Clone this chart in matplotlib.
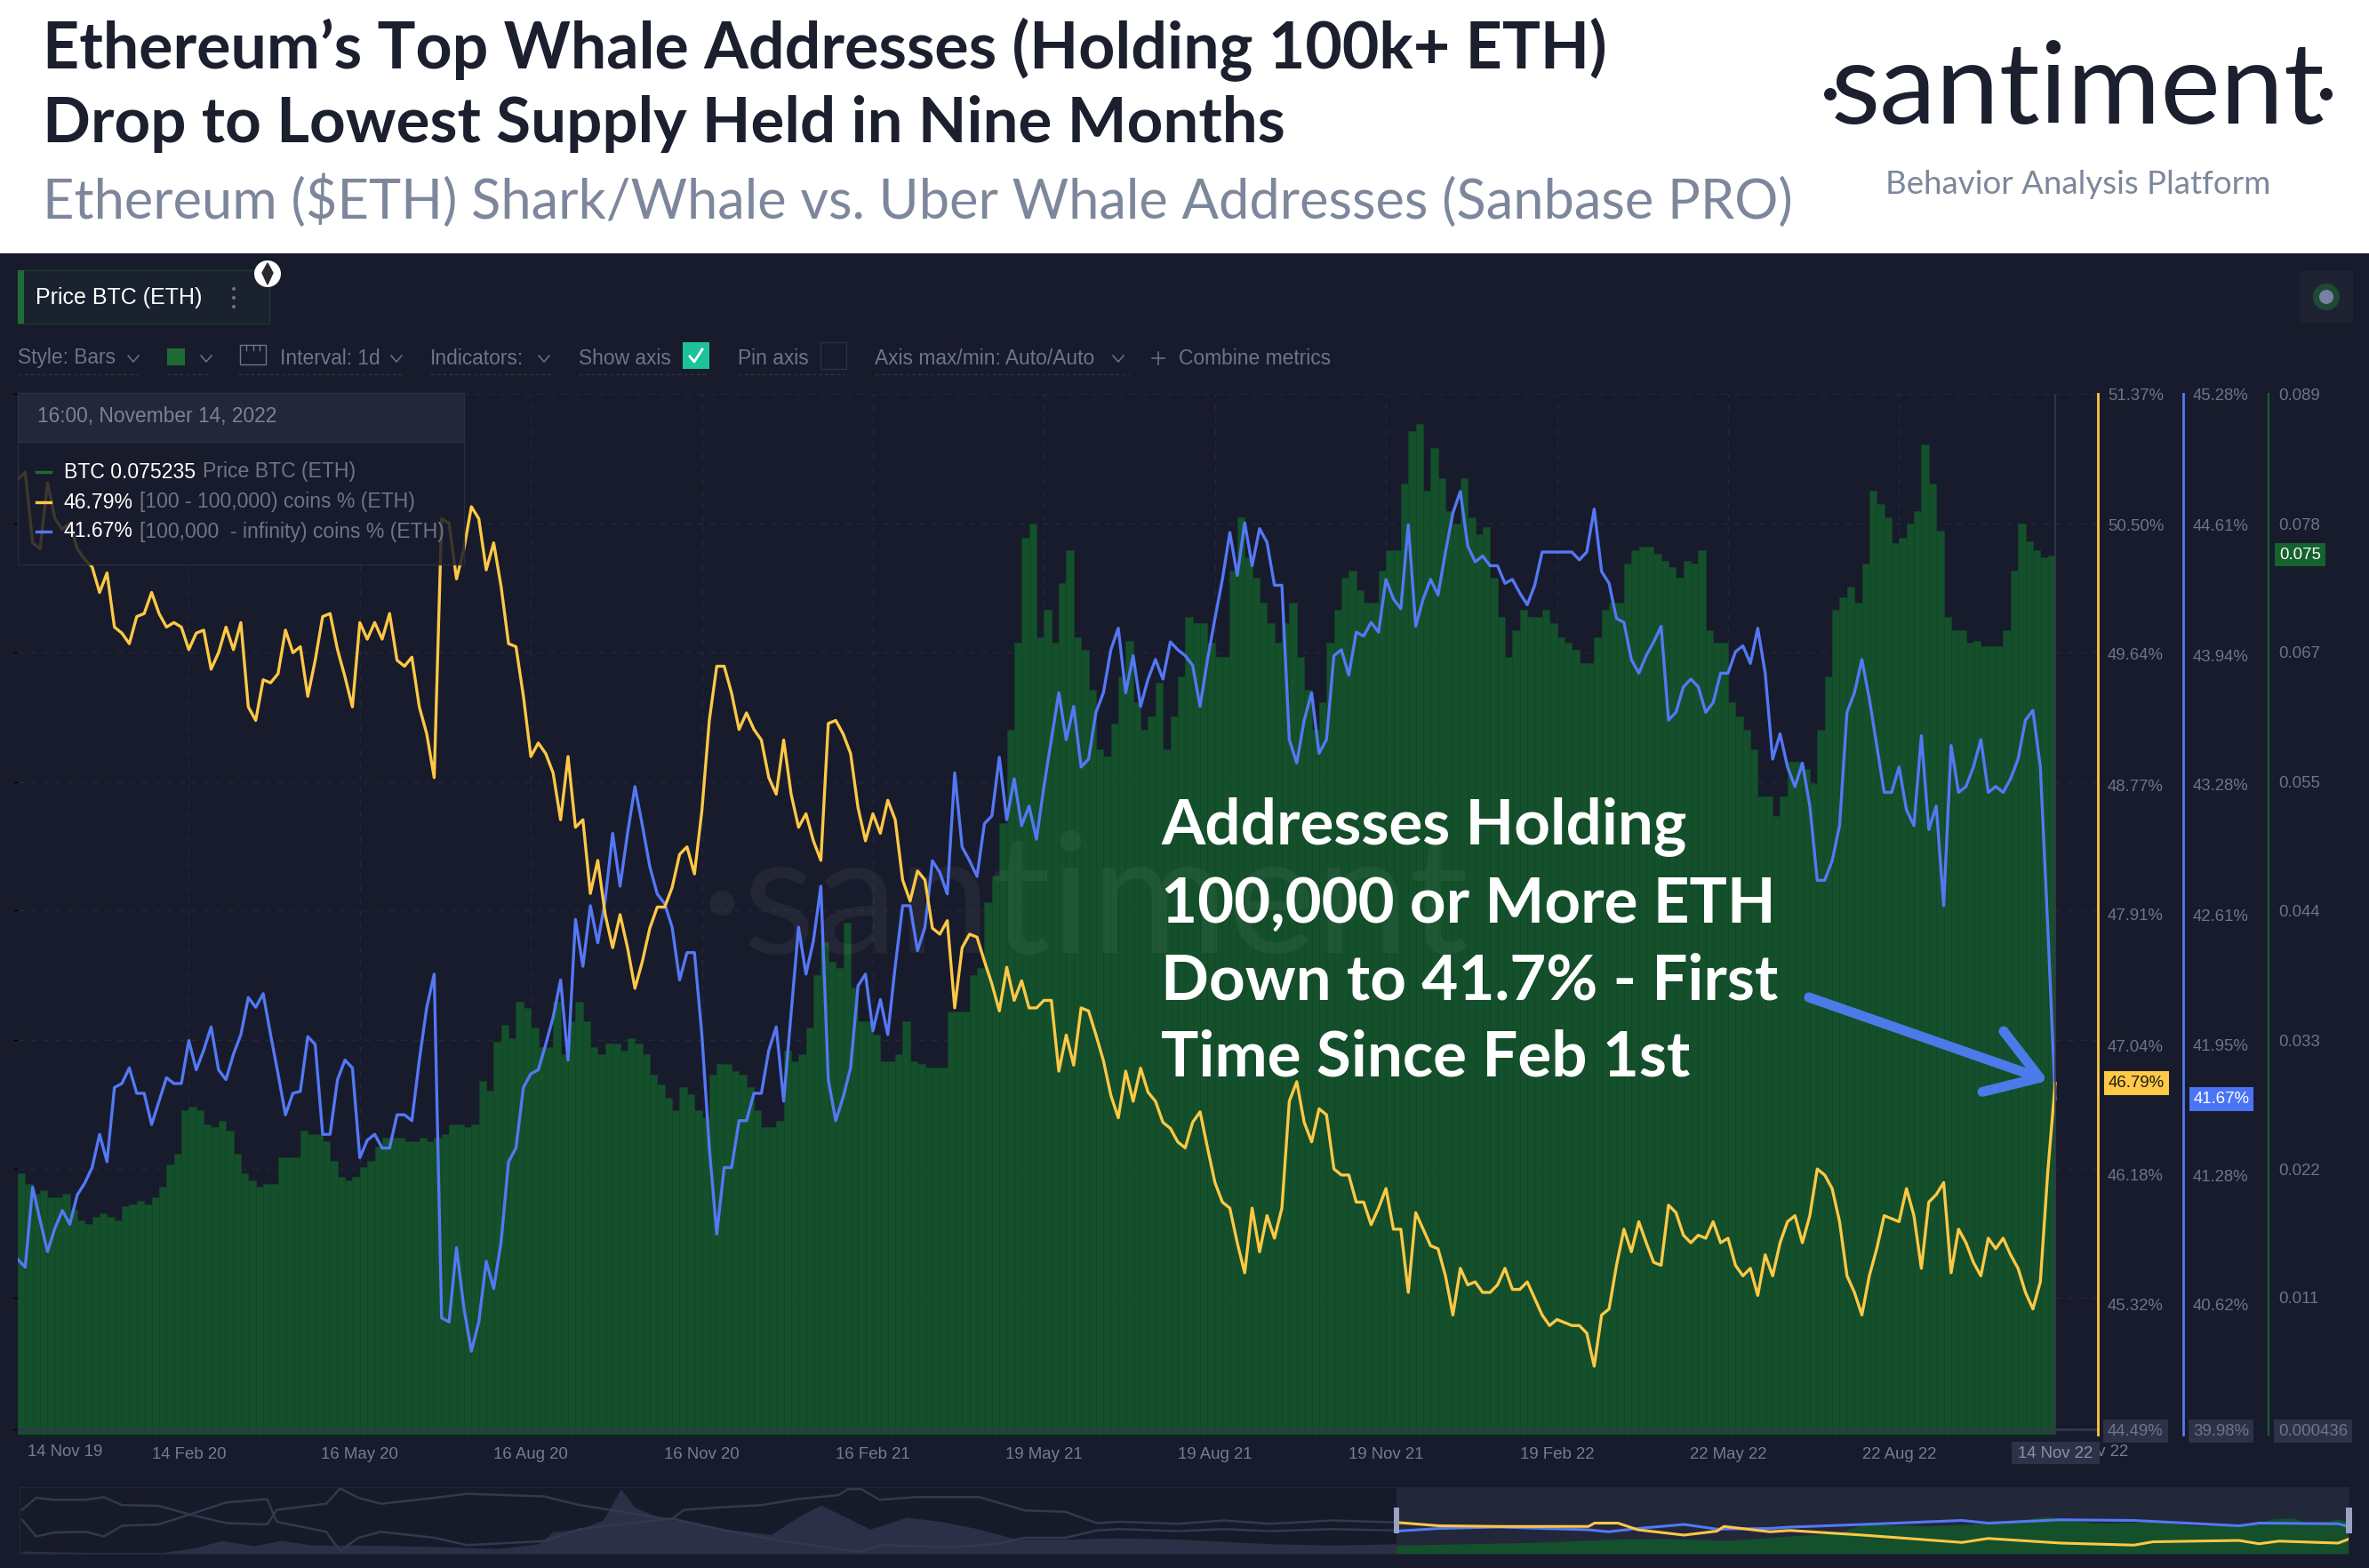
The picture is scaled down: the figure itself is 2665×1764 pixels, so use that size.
#!/usr/bin/env python3
"""Santiment ETH supply distribution chart, redrawn with matplotlib."""

import matplotlib
matplotlib.use('Agg')
import matplotlib.pyplot as plt
import numpy as np
import pandas as pd
from matplotlib.lines import Line2D
from matplotlib.patches import Ellipse, Polygon, Rectangle

W, H = 2665, 1764
BG = '#181b2b'
YELLOW = '#ffc845'
BLUE = '#5478f5'
GREEN = '#14502b'
GREEN_AXIS = '#1c5c33'
TICK_GRAY = '#6f7488'
GRID = '#23273a'

# one reading every 4 days, the last one is 14 Nov 22
yellow_pct = [
    50.80, 50.85, 50.38, 50.34, 50.78, 50.54, 50.47, 50.51, 50.34, 50.27,
    50.22, 50.05, 50.18, 49.82, 49.78, 49.71, 49.89, 49.91, 50.05, 49.91,
    49.82, 49.85, 49.82, 49.67, 49.78, 49.80, 49.54, 49.65, 49.82, 49.67,
    49.85, 49.29, 49.20, 49.47, 49.45, 49.51, 49.80, 49.65, 49.69, 49.36,
    49.60, 49.89, 49.91, 49.67, 49.49, 49.29, 49.85, 49.74, 49.85, 49.74,
    49.91, 49.60, 49.56, 49.62, 49.29, 49.11, 48.82, 50.54, 50.51, 50.14,
    50.34, 50.62, 50.54, 50.20, 50.38, 50.09, 49.71, 49.69, 49.36, 48.96,
    49.05, 48.98,
    48.85, 48.54, 48.96, 48.49, 48.54, 48.05, 48.27, 47.91, 47.69, 47.91,
    47.69, 47.42, 47.60, 47.82, 47.96, 47.96, 48.09, 48.31, 48.36, 48.18,
    48.60, 49.20, 49.56, 49.56, 49.38, 49.14, 49.25, 49.14, 49.07, 48.82,
    48.71, 49.07, 48.71, 48.49, 48.58, 48.40, 48.27, 49.18, 49.20, 49.11,
    48.98, 48.62, 48.40, 48.58, 48.45, 48.67, 48.54, 48.14, 48.00, 48.20,
    48.14, 47.82, 47.78, 47.87, 47.29, 47.69, 47.78, 47.76, 47.60, 47.45,
    47.27, 47.56, 47.34, 47.47, 47.29, 47.29, 47.34, 47.34, 46.87, 47.11,
    46.91, 47.29,
    47.27, 47.11, 46.94, 46.71, 46.56, 46.87, 46.67, 46.89, 46.73, 46.67,
    46.53, 46.49, 46.40, 46.36, 46.53, 46.60, 46.36, 46.13, 46.00, 45.96,
    45.73, 45.53, 45.96, 45.67, 45.91, 45.76, 45.96, 46.67, 46.80, 46.53,
    46.40, 46.62, 46.58, 46.22, 46.18, 46.18, 46.00, 46.00, 45.85, 45.96,
    46.09, 45.82, 45.82, 45.40, 45.93, 45.82, 45.71, 45.69, 45.51, 45.25,
    45.56, 45.45, 45.47, 45.40, 45.40, 45.45, 45.56, 45.42, 45.42, 45.47,
    45.36, 45.25, 45.18, 45.22, 45.20, 45.18, 45.18, 45.13, 44.91, 45.25,
    45.29, 45.58,
    45.82, 45.67, 45.87, 45.73, 45.60, 45.58, 45.98, 45.93, 45.78, 45.73,
    45.78, 45.76, 45.87, 45.73, 45.76, 45.58, 45.51, 45.56, 45.38, 45.65,
    45.51, 45.73, 45.87, 45.91, 45.73, 45.91, 46.22, 46.18, 46.09, 45.87,
    45.51, 45.40, 45.25, 45.51, 45.69, 45.91, 45.89, 45.87, 46.09, 45.91,
    45.56, 46.00, 46.05, 46.13, 45.53, 45.82, 45.73, 45.60, 45.51, 45.76,
    45.69, 45.76, 45.65, 45.56, 45.40, 45.29, 45.47, 46.20, 46.79,
]

blue_pct = [
    40.85, 40.81, 41.22, 41.05, 40.89, 41.01, 41.10, 41.03, 41.18, 41.24,
    41.32, 41.49, 41.35, 41.73, 41.75, 41.83, 41.70, 41.70, 41.54, 41.66,
    41.78, 41.75, 41.75, 41.97, 41.82, 41.92, 42.04, 41.82, 41.77, 41.90,
    42.00, 42.19, 42.14, 42.21, 42.00, 41.80, 41.59, 41.70, 41.71, 41.99,
    41.95, 41.49, 41.49, 41.77, 41.87, 41.83, 41.37, 41.46, 41.49, 41.42,
    41.42, 41.59, 41.59, 41.56, 41.87, 42.14, 42.31, 40.55, 40.53, 40.91,
    40.60, 40.38, 40.53, 40.84, 40.70, 40.94, 41.35, 41.42, 41.73, 41.80,
    41.82, 41.95,
    42.09, 42.28, 41.87, 42.59, 42.35, 42.66, 42.47, 42.69, 43.03, 42.76,
    43.03, 43.27, 43.07, 42.86, 42.72, 42.67, 42.55, 42.28, 42.42, 42.42,
    42.00, 41.42, 40.98, 41.32, 41.32, 41.56, 41.56, 41.70, 41.70, 41.92,
    42.04, 41.66, 42.11, 42.55, 42.31, 42.48, 42.76, 41.77, 41.56, 41.68,
    41.83, 42.25, 42.31, 42.02, 42.18, 42.00, 42.35, 42.66, 42.66, 42.43,
    42.55, 42.89, 42.83, 42.72, 43.34, 42.96, 42.89, 42.81, 43.08, 43.12,
    43.42, 43.10, 43.31, 43.07, 43.17, 43.00, 43.27, 43.51, 43.75, 43.51,
    43.68, 43.37,
    43.41, 43.65, 43.75, 43.97, 44.08, 43.75, 43.94, 43.68, 43.82, 43.92,
    43.82, 44.01, 43.97, 43.94, 43.89, 43.68, 43.92, 44.13, 44.33, 44.57,
    44.35, 44.62, 44.40, 44.59, 44.52, 44.30, 44.30, 43.51, 43.39, 43.61,
    43.75, 43.44, 43.51, 43.94, 43.97, 43.84, 44.06, 44.04, 44.11, 44.06,
    44.33, 44.23, 44.18, 44.61, 44.09, 44.23, 44.33, 44.25, 44.47, 44.67,
    44.78, 44.50, 44.42, 44.45, 44.40, 44.40, 44.31, 44.33, 44.26, 44.20,
    44.30, 44.47, 44.47, 44.47, 44.47, 44.47, 44.43, 44.47, 44.69, 44.37,
    44.31, 44.13,
    44.11, 43.92, 43.85, 43.94, 44.01, 44.09, 43.61, 43.65, 43.78, 43.82,
    43.78, 43.65, 43.70, 43.85, 43.85, 43.96, 43.99, 43.90, 44.08, 43.85,
    43.41, 43.54, 43.37, 43.27, 43.39, 43.17, 42.79, 42.79, 42.89, 43.07,
    43.65, 43.75, 43.92, 43.72, 43.48, 43.24, 43.24, 43.37, 43.15, 43.07,
    43.53, 43.05, 43.17, 42.66, 43.48, 43.24, 43.27, 43.37, 43.51, 43.24,
    43.27, 43.24, 43.31, 43.41, 43.61, 43.66, 43.37, 42.55, 41.67,
]

price_btc = [
    .0220, .0223, .0214, .0206, .0209, .0203, .0203, .0206, .0192, .0183,
    .0180, .0186, .0189, .0186, .0183, .0195, .0197, .0200, .0197, .0203,
    .0212, .0231, .0240, .0277, .0280, .0277, .0265, .0263, .0268, .0260,
    .0240, .0223, .0217, .0212, .0214, .0214, .0237, .0237, .0237, .0260,
    .0257, .0257, .0251, .0234, .0220, .0217, .0220, .0229, .0234, .0246,
    .0254, .0254, .0254, .0251, .0251, .0254, .0251, .0254, .0257, .0265,
    .0265, .0263, .0265, .0302, .0294, .0336, .0350, .0339, .0370, .0365,
    .0348, .0331,
    .0331, .0370, .0325, .0353, .0370, .0353, .0331, .0325, .0334, .0334,
    .0328, .0339, .0334, .0325, .0308, .0299, .0288, .0277, .0297, .0291,
    .0277, .0271, .0308, .0317, .0317, .0311, .0308, .0297, .0277, .0263,
    .0263, .0268, .0328, .0319, .0325, .0348, .0393, .0421, .0404, .0399,
    .0438, .0382, .0353, .0353, .0342, .0319, .0319, .0325, .0353, .0319,
    .0317, .0314, .0314, .0314, .0362, .0362, .0362, .0393, .0399, .0455,
    .0478, .0523, .0603, .0677, .0767, .0779, .0682, .0705, .0677, .0728,
    .0756, .0682,
    .0671, .0637, .0586, .0580, .0608, .0648, .0679, .0626, .0603, .0614,
    .0643, .0586, .0614, .0648, .0699, .0694, .0694, .0677, .0665, .0665,
    .0739, .0784, .0750, .0733, .0711, .0694, .0677, .0694, .0711, .0665,
    .0637, .0603, .0626, .0677, .0705, .0733, .0739, .0722, .0711, .0711,
    .0739, .0756, .0756, .0813, .0858, .0864, .0807, .0844, .0818, .0790,
    .0779, .0818, .0784, .0770, .0776, .0733, .0699, .0665, .0688, .0705,
    .0699, .0699, .0705, .0694, .0682, .0677, .0671, .0660, .0660, .0682,
    .0705, .0711,
    .0711, .0745, .0756, .0759, .0759, .0753, .0747, .0742, .0733, .0747,
    .0745, .0756, .0688, .0677, .0677, .0626, .0614, .0603, .0586, .0546,
    .0546, .0529, .0546, .0575, .0575, .0569, .0557, .0603, .0648, .0705,
    .0716, .0725, .0711, .0745, .0807, .0796, .0784, .0762, .0767, .0779,
    .0790, .0847, .0813, .0773, .0699, .0688, .0688, .0677, .0679, .0674,
    .0674, .0674, .0688, .0739, .0779, .0764, .0756, .0750, .0752,
]
assert len(yellow_pct) == len(blue_pct) == len(price_btc) == 275

yellow_ticks = [51.37, 50.50, 49.64, 48.77, 47.91, 47.04, 46.18, 45.32, 44.49]
blue_ticks = [45.28, 44.61, 43.94, 43.28, 42.61, 41.95, 41.28, 40.62, 39.98]
green_ticks = [0.089, 0.0779, 0.0669, 0.0558, 0.0448, 0.0337, 0.0227, 0.0117, 0.000436]
green_tick_labels = ['0.089', '0.078', '0.067', '0.055', '0.044', '0.033', '0.022', '0.011', '0.000436']

start_date = pd.Timestamp('2019-11-14')
date_ticks = ['2020-02-14', '2020-05-16', '2020-08-16', '2020-11-16', '2021-02-16', '2021-05-19',
              '2021-08-19', '2021-11-19', '2022-02-19', '2022-05-22', '2022-08-22']

# navigator strip at the bottom, heights are percent of the strip, days relative to 14 Nov 19
mini_a_days = [-1582, -1566, -1545, -1509, -1488, -1467, -1425, -1389, -1347, -1300,
               -1289, -1232, -1216, -1195, -1169, -1107, -1070, -981, -940, -887,
               -835, -820, -773, -731, -689, -642, -632, -616, -595, -553,
               -480, -428, -381, -345, -318, -251, -198, -146, -73, 0]
mini_a = [66, 84, 81, 81, 85, 73, 72, 59, 46, 44,
          66, 75, 98, 84, 75, 84, 90, 86, 73, 62,
          51, 66, 70, 73, 82, 88, 97, 97, 81, 85,
          85, 65, 63, 46, 48, 45, 50, 45, 50, 47]
mini_b_days = [-1582, -1566, -1545, -1509, -1488, -1467, -1425, -1389, -1347, -1300,
               -1289, -1232, -1216, -1195, -1169, -1107, -1070, -981, -940, -887,
               -835, -773, -710, -642, -616, -595, -512, -459, -428, -381,
               -345, -318, -251, -198, -146, -73, 0]
mini_b = [51, 26, 32, 33, 26, 42, 44, 59, 77, 82,
          48, 33, 4, 24, 33, 24, 13, 19, 37, 45,
          53, 35, 20, 7, 3, 13, 10, 15, 24, 24,
          35, 37, 34, 37, 34, 37, 35]
mini_price_days = [-1582, -1503, -1420, -1383, -1352, -1315, -1284, -1248, -1190, -1107,
                   -1034, -987, -971, -940, -913, -893, -877, -846, -814, -773,
                   -720, -689, -663, -637, -606, -564, -522, -480, -438, -376,
                   -324, -251, -146, -73, 0]
mini_price = [4, 2, 2, 9, 20, 12, 20, 13, 13, 11,
              8, 15, 33, 37, 51, 97, 70, 53, 48, 37,
              29, 55, 73, 57, 37, 55, 48, 37, 22, 22,
              24, 22, 15, 13, 15]
sel_yellow_days = [0, 49, 118, 221, 228, 255, 278, 331, 369, 377, 430, 453,
                   537, 651, 681, 765, 849, 871, 970, 993, 1016, 1084, 1096]
sel_yellow = [47, 42, 41, 41, 46, 46, 36, 28, 34, 41, 33, 35,
              28, 17, 23, 16, 13, 18, 20, 15, 19, 16, 22]
sel_blue_days = [0, 49, 118, 221, 244, 278, 331, 369, 430, 453,
                 537, 651, 681, 765, 849, 970, 993, 1084, 1096]
sel_blue = [34, 38, 40, 36, 33, 38, 44, 37, 38, 40,
            44, 50, 46, 51, 50, 42, 46, 45, 41]
sel_price_days = [0, 80, 156, 255, 308, 384, 445, 506, 537, 613, 689,
                  750, 803, 879, 917, 978, 1008, 1031, 1054, 1084, 1096]
sel_price = [13, 15, 17, 22, 23, 20, 26, 31, 44, 42, 46,
             56, 46, 48, 42, 42, 52, 54, 44, 52, 48]

plt.rcParams['font.family'] = ['Liberation Sans', 'DejaVu Sans']
fig = plt.figure(figsize=(W / 100, H / 100), dpi=100, facecolor=BG)


def fx(x):
    return x / W


def fy(y):
    return 1 - y / H


def txt(x, y, s, size, color, ha='left', va='center', z=8, **kw):
    return fig.text(fx(x), fy(y), s, fontsize=size, color=color, ha=ha, va=va, zorder=z, **kw)


def box(x0, y0, x1, y1, color, alpha=1.0, z=5, ec='none', lw=0):
    r = Rectangle((fx(x0), fy(y1)), (x1 - x0) / W, (y1 - y0) / H, transform=fig.transFigure,
                  facecolor=color, alpha=alpha, zorder=z, edgecolor=ec, linewidth=lw)
    fig.add_artist(r)
    return r


def seg(xs, ys, color, lw=1.5, z=8, **kw):
    fig.add_artist(Line2D([fx(x) for x in xs], [fy(y) for y in ys], transform=fig.transFigure,
                          color=color, linewidth=lw, zorder=z, **kw))


def dot(x, y, r, color, z=8):
    fig.add_artist(Ellipse((fx(x), fy(y)), 2 * r / W, 2 * r / H, transform=fig.transFigure,
                           facecolor=color, edgecolor='none', zorder=z))


def chevron(x, y):
    seg([x - 6, x, x + 6], [y - 3, y + 4, y - 3], '#6f7488', lw=1.1)


# main panel, three y scales on the same area
days = np.arange(275) * 4
ax_left, ax_right, ax_top, ax_bottom = 20, 2360, 443, 1614
rect = [fx(ax_left), fy(ax_bottom), (ax_right - ax_left) / W, (ax_bottom - ax_top) / H]
px_per_day = (2312 - 20) / 1096

ax = fig.add_axes(rect, facecolor=BG)
ax.set_xlim(0, (ax_right - ax_left) / px_per_day)
ax.set_ylim(-0.00002, 0.089)
ax.bar(days - 4, price_btc, width=4, align='edge', color=GREEN, edgecolor='#124827', linewidth=0.4, zorder=2)
ax.set_axisbelow(True)
ax.grid(True, color=GRID, linestyle=(0, (5, 5)), linewidth=1.0)
for s in ax.spines.values():
    s.set_visible(False)
ax.set_yticks(green_ticks)
ax.tick_params(axis='y', left=False, labelleft=False)
tick_days = (pd.to_datetime(date_ticks) - start_date).days
ax.set_xticks(tick_days)
ax.set_xticklabels([d.strftime('%d %b %y') for d in pd.to_datetime(date_ticks)])
ax.tick_params(axis='x', length=0, labelsize=13.4, labelcolor='#777c92', pad=10)
ax.text(fx(788), fy(1072), '\u00b7santiment', transform=fig.transFigure, fontsize=135,
        family='Lato', color='white', alpha=0.05, zorder=3, clip_on=False)

ax_blue = ax.twinx()
ax_blue.set_ylim(39.953, 45.28)
ax_blue.plot(days, blue_pct, color=BLUE, linewidth=2.4, solid_joinstyle='round')
ax_yel = ax.twinx()
ax_yel.set_ylim(44.455, 51.37)
ax_yel.plot(days, yellow_pct, color=YELLOW, linewidth=2.4, solid_joinstyle='round')

ax_green = ax.twinx()
ax_green.set_ylim(ax.get_ylim())

for a, ticks, labels, color, off, lw in [
        (ax_yel, yellow_ticks, [f'{t:.2f}%' for t in yellow_ticks], YELLOW, 0, 2.0),
        (ax_blue, blue_ticks, [f'{t:.2f}%' for t in blue_ticks], BLUE, 96, 2.0),
        (ax_green, green_ticks, green_tick_labels, GREEN_AXIS, 192, 1.6)]:
    a.patch.set_visible(False)
    for name, s in a.spines.items():
        s.set_visible(name == 'right')
    a.spines['right'].set_position(('outward', off * 0.72))
    a.spines['right'].set_color(color)
    a.spines['right'].set_linewidth(lw)
    a.set_yticks(ticks)
    a.set_yticklabels(labels)
    a.tick_params(axis='y', length=0, labelsize=13.4, labelcolor=TICK_GRAY, pad=8)
    bottom_label = a.get_yticklabels()[-1]
    bottom_label.set_bbox(dict(facecolor='#2d3248', edgecolor='none', pad=3.5))
    a.tick_params(axis='x', bottom=False, labelbottom=False)

ax_yel.annotate(f'{yellow_pct[-1]:.2f}%', xy=(1, yellow_pct[-1]), xycoords=('axes fraction', 'data'),
                xytext=(8.5, 0), textcoords='offset points', va='center', fontsize=13.4, color='#1a1a1a',
                bbox=dict(facecolor=YELLOW, edgecolor='none', pad=3.5), annotation_clip=False)
ax_yel.annotate(f'{blue_pct[-1]:.2f}%', xy=(1, ax_yel.transData.inverted().transform(
                    ax_blue.transData.transform((0, blue_pct[-1])))[1]), xycoords=('axes fraction', 'data'),
                xytext=(77.5, 0), textcoords='offset points', va='center', fontsize=13.4, color='white',
                bbox=dict(facecolor='#4a73f5', edgecolor='none', pad=3.5), annotation_clip=False)
ax_green.annotate(f'{price_btc[-1]:.3f}', xy=(1, 0.075235), xycoords=('axes fraction', 'data'),
                  xytext=(147, 0), textcoords='offset points', va='center', fontsize=13.4, color='white',
                  bbox=dict(facecolor='#14622e', edgecolor='none', pad=3.5), annotation_clip=False)

# crosshair on the last day
ax_yel.axvline(1096, color='#34384c', linewidth=1.2)
ax_yel.axhline(44.49, color='#34384c', linewidth=2)
txt(2394, 1634, '22 Nov 22', 13.4, '#777c92', ha='right', z=6)
box(2263, 1622, 2362, 1647, '#2d3248', z=7)
txt(2312, 1635, '14 Nov 22', 13.4, '#8b90a8', ha='center')
txt(31, 1634, '14 Nov 19', 13.4, '#777c92')

# callout
ax_yel.annotate('', xy=(1096, yellow_pct[-1]), xycoords='data', xytext=(fx(2035), fy(1122)),
                textcoords='figure fraction',
                arrowprops=dict(arrowstyle='->,head_length=2.0,head_width=1.3', lw=8, color='#4a7be8',
                                capstyle='round', shrinkA=0, shrinkB=6, mutation_scale=20))
for y, line in zip([930, 1017, 1104, 1190], ['Addresses Holding', '100,000 or More ETH',
                                             'Down to 41.7% - First', 'Time Since Feb 1st']):
    txt(1306, y, line, 51, 'white', family='Lato', fontweight='bold')

# navigator strip
mini = fig.add_axes([fx(22), fy(1748), (2642 - 22) / W, (1748 - 1673) / H], facecolor='#171a29')
mini.set_xlim(-1585, 1096)
mini.set_ylim(0, 100)
mini.axvspan(0, 1096, color='#23273a', linewidth=0)
mini.fill_between(mini_price_days, mini_price, color='#2b3046', linewidth=0)
mini.plot(mini_a_days, mini_a, color='#33384e', linewidth=1.8)
mini.plot(mini_b_days, mini_b, color='#33384e', linewidth=1.8)
mini.fill_between(sel_price_days, sel_price, color=GREEN, linewidth=0)
mini.plot(sel_blue_days, sel_blue, color=BLUE, linewidth=2.2)
mini.plot(sel_yellow_days, sel_yellow, color=YELLOW, linewidth=2.2)
mini.set_xticks([])
mini.set_yticks([])
for s in mini.spines.values():
    s.set_color('#23273a')
box(1568, 1696, 1574, 1725, '#9aa2c4')
box(2639, 1696, 2646, 1725, '#9aa2c4')

# white header
box(0, 0, W, 285, 'white', z=1)
txt(48, 56, 'Ethereum\u2019s Top Whale Addresses (Holding 100k+ ETH)', 51.6, '#1b1f2e', family='Lato', fontweight='bold')
txt(48, 139, 'Drop to Lowest Supply Held in Nine Months', 51, '#1b1f2e', family='Lato', fontweight='bold')
txt(48, 227, 'Ethereum ($ETH) Shark/Whale vs. Uber Whale Addresses (Sanbase PRO)', 44.2, '#7d879c', family='Lato')
txt(2338, 139, 'santiment', 92, '#1b1f2e', ha='center', va='baseline', family='Lato')
dot(2059, 106, 7, '#1b1f2e')
dot(2617, 106, 7, '#1b1f2e')
txt(2338, 207, 'Behavior Analysis Platform', 26.4, '#7d879c', ha='center', family='Lato')

# metric chip and toolbar
box(20, 304, 303, 364, '#1a2230', z=5, ec='#1d3a2c', lw=1)
box(20, 304, 27, 364, '#1f6b35', z=6)
txt(40, 335, 'Price BTC (ETH)', 18, 'white')
for y in [325, 335, 345]:
    dot(263, y, 2, '#6f7488')
dot(301, 308, 15, 'white')
fig.add_artist(Polygon([(fx(301), fy(296)), (fx(307), fy(307)), (fx(301), fy(320)), (fx(295), fy(307))],
                       transform=fig.transFigure, color='#2a2a2e', zorder=9))
box(2587, 305, 2647, 363, '#1e2233', z=5)
dot(2617, 334, 15, '#1d4a35', z=6)
dot(2617, 334, 8, '#7a7fa5', z=7)

bar_y = 403
for x, s in [(20, 'Style: Bars'), (315, 'Interval: 1d'), (484, 'Indicators:'), (651, 'Show axis'),
             (830, 'Pin axis'), (984, 'Axis max/min: Auto/Auto'), (1326, 'Combine metrics')]:
    txt(x, bar_y, s, 16.4, '#6f7488')
for x in [150, 232, 446, 612, 1258]:
    chevron(x, bar_y)
seg([1296, 1310], [bar_y, bar_y], '#6f7488', lw=1.1)
seg([1303, 1303], [bar_y - 7, bar_y + 7], '#6f7488', lw=1.1)
box(188, 392, 208, 411, '#1f6b35', z=6)
box(270, 388, 299, 410, 'none', z=6, ec='#6f7488', lw=1)
for x in [277, 285, 292]:
    seg([x, x], [388, 394], '#6f7488', lw=1)
box(768, 385, 798, 415, '#1cc29a', z=6)
seg([776, 781, 790], [401, 407, 393], 'white', lw=2)
box(923, 385, 952, 415, 'none', z=6, ec='#2c3044', lw=1)
for x0, x1 in [(20, 158), (188, 238), (268, 454), (484, 620), (651, 795), (830, 950), (984, 1270)]:
    seg([x0, x1], [421, 421], '#2c3044', lw=1, linestyle=(0, (3, 2)))

# hover panel over the chart
box(20, 442, 522, 497, '#232739', z=5, ec='#2c3044', lw=1)
box(20, 497, 522, 635, BG, alpha=0.84, z=5, ec='#2c3044', lw=1)
txt(42, 469, '16:00, November 14, 2022', 16.4, '#7c8199')
for y, color in [(531, '#1f6b35'), (565, YELLOW), (598, BLUE)]:
    seg([41, 57], [y, y], color, lw=2.4)
txt(72, 531, 'BTC 0.075235', 16.6, 'white')
txt(228, 531, 'Price BTC (ETH)', 16.6, '#6f7488')
txt(72, 565, '46.79%', 16.6, 'white')
txt(157, 565, '[100 - 100,000) coins % (ETH)', 16.6, '#6f7488')
txt(72, 598, '41.67%', 16.6, 'white')
txt(157, 598, '[100,000  - infinity) coins % (ETH)', 16.6, '#6f7488')

fig.savefig('out.png', dpi=100, facecolor=BG)
